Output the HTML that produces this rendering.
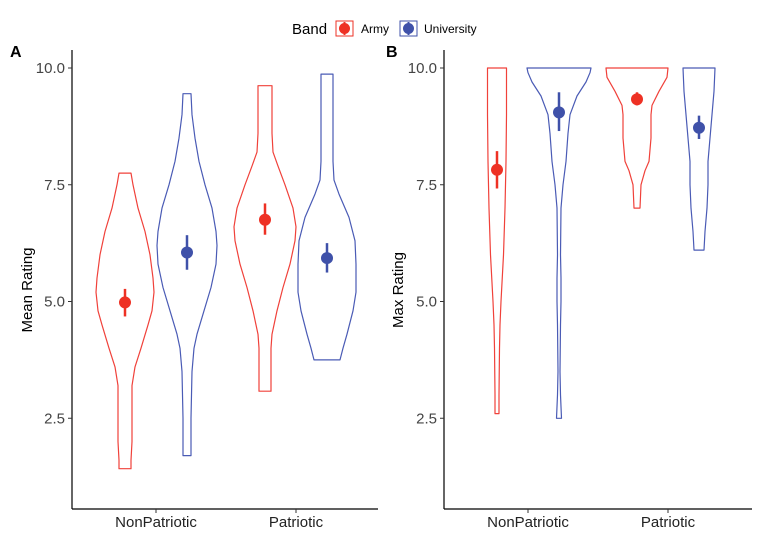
<!DOCTYPE html>
<html><head><meta charset="utf-8"><style>
body{margin:0;background:#fff;}
svg{display:block;font-family:"Liberation Sans",Arial,sans-serif;}
</style></head><body>
<svg id="chart" width="767" height="540"></svg>
<script>
const groups = ["NonPatriotic","Patriotic"];
const bands = ["Army","University"];
const yTicks = [2.5,5.0,7.5,10.0];
const yTickLabels = ["2.5","5.0","7.5","10.0"];
// Panel A violin profiles: [value, half-width px]
const aArmyNP = [[7.75,6],[7.5,8],[7.0,13],[6.5,20],[6.0,25],[5.5,28],[5.2,29],[4.8,27],[4.5,23],[4.0,16],[3.6,10],[3.2,7],[2.8,7],[2.0,7],[1.6,6],[1.42,6]];
const aUnivNP = [[9.45,4],[9.0,5],[8.5,8],[8.0,12],[7.5,18],[7.0,25],[6.5,29],[6.2,30],[5.8,29],[5.3,24],[4.8,17],[4.3,10],[4.0,7],[3.5,5],[2.5,4],[1.7,4]];
const aArmyP = [[9.62,7],[9.0,7],[8.6,7],[8.2,8],[7.9,13],[7.5,20],[7.0,28],[6.6,31],[6.3,30],[5.8,25],[5.3,18],[4.8,12],[4.3,7],[4.0,6],[3.08,6]];
const aUnivP = [[9.87,6],[9.0,6],[8.0,6],[7.6,7],[7.3,12],[6.8,22],[6.3,28],[5.8,29],[5.2,29],[4.8,26],[4.3,20],[4.0,16],[3.75,13]];
// Panel B violin profiles
const bArmyNP = [[10,9.5],[9.0,9.5],[8.0,9],[7.0,8],[6.0,6.5],[5.0,4],[4.5,3],[4.0,2.5],[3.0,2],[2.6,2]];
const bUnivNP = [[10,32],[9.9,31],[9.7,27],[9.4,18],[9.0,11],[8.6,9],[8.0,7],[7.5,4],[7.0,2],[6.0,1.5],[5.5,2],[5.0,2],[4.5,1.5],[3.5,1],[3.0,1.5],[2.5,2.5]];
const bArmyP = [[10,31],[9.8,30],[9.5,22],[9.2,15],[9.0,14],[8.5,14],[8.0,12],[7.8,8],[7.5,4],[7.0,3]];
const bUnivP = [[10,16],[9.5,15],[9.0,13],[8.5,11],[8.0,9],[7.5,9],[7.0,8],[6.5,6],[6.1,5]];
// Means with CI [mean, low, high]
const aMeans = [[4.98,4.68,5.27],[6.05,5.68,6.42],[6.75,6.43,7.1],[5.93,5.62,6.25]];
const bMeans = [[7.82,7.42,8.22],[9.05,8.65,9.48],[9.33,9.2,9.48],[8.72,8.48,8.98]];

const RED="#ee3124", BLUE="#3f51a9", RED_L="#f0413a", BLUE_L="#4a5bb5";
const svg=document.getElementById('chart');
const NS="http://www.w3.org/2000/svg";
function mk(tag,attrs,parent){const e=document.createElementNS(NS,tag);for(const k in attrs)e.setAttribute(k,attrs[k]);(parent||svg).appendChild(e);return e;}
function yS(v){return 68+(10-v)*46.7;}

function panel(p){
  const g=mk('g',{});
  
  
  const t=mk('text',{x:p.lx,y:57,'font-size':16,'font-weight':'bold',fill:'#000'},g);t.textContent=p.letter;
  
  
  mk('line',{x1:p.ax,y1:50,x2:p.ax,y2:509,stroke:'#000','stroke-width':1.2},g);
  mk('line',{x1:p.ax,y1:509,x2:p.xr,y2:509,stroke:'#000','stroke-width':1.2},g);
  yTicks.forEach((v,i)=>{
    mk('line',{x1:p.ax-4,y1:yS(v),x2:p.ax,y2:yS(v),stroke:'#333'},g);
    const tl=mk('text',{x:p.ax-7,y:yS(v)+5,'font-size':15,'text-anchor':'end',fill:'#444'},g);tl.textContent=yTickLabels[i];
    
    
  });
  groups.forEach((gr,i)=>{
    const x=p.gx[i];
    mk('line',{x1:x,y1:509,x2:x,y2:513,stroke:'#333'},g);
    const tl=mk('text',{x:x,y:527,'font-size':15,'text-anchor':'middle',fill:'#222'},g);tl.textContent=gr;
    
    
  });
  const yt=mk('text',{x:0,y:0,'font-size':15,'text-anchor':'middle',fill:'#000',transform:`translate(${p.tx},290) rotate(-90)`},g);yt.textContent=p.title;
  
  
  p.violins.forEach((prof,k)=>{
    const cx=p.gx[Math.floor(k/2)]+(k%2===0?-31:31);
    const col=k%2===0?RED_L:BLUE_L;
    let right=prof.map(d=>[cx+d[1],yS(d[0])]);
    let left=prof.slice().reverse().map(d=>[cx-d[1],yS(d[0])]);
    const pts=right.concat(left).map(q=>q[0].toFixed(1)+','+q[1].toFixed(1)).join(' ');
    const v=mk('polygon',{points:pts,fill:'none',stroke:col,'stroke-width':1.2,'stroke-linejoin':'round'},g);
    
    
    const m=p.means[k], mc=k%2===0?RED:BLUE;
    const l=mk('line',{x1:cx,y1:yS(m[1]),x2:cx,y2:yS(m[2]),stroke:mc,'stroke-width':2.5},g);
    
    
    const c=mk('circle',{cx:cx,cy:yS(m[0]),r:6,fill:mc},g);
    
    
  });
}
panel({name:'panel-a',letter:'A',lx:10,ax:72,xr:378,gx:[156,296],tx:32,title:'Mean Rating',violins:[aArmyNP,aUnivNP,aArmyP,aUnivP],means:aMeans});
panel({name:'panel-b',letter:'B',lx:386,ax:444,xr:752,gx:[528,668],tx:403,title:'Max Rating',violins:[bArmyNP,bUnivNP,bArmyP,bUnivP],means:bMeans});

// legend
const lg=mk('g',{});


const lt=mk('text',{x:292,y:34,'font-size':15,fill:'#000'},lg);lt.textContent='Band';
[[RED,'Army',336,361],[BLUE,'University',400,424]].forEach(([c,n,bx,tx])=>{
  const e=mk('g',{},lg);
  
  
  mk('rect',{x:bx,y:21,width:17,height:15,fill:'none',stroke:c,'stroke-width':1},e);
  mk('line',{x1:bx+8.5,y1:22,x2:bx+8.5,y2:35,stroke:c,'stroke-width':2},e);
  mk('circle',{cx:bx+8.5,cy:28.5,r:5.5,fill:c},e);
  const t=mk('text',{x:tx,y:33,'font-size':12,fill:'#000'},e);t.textContent=n;
});
</script>
</body></html>
